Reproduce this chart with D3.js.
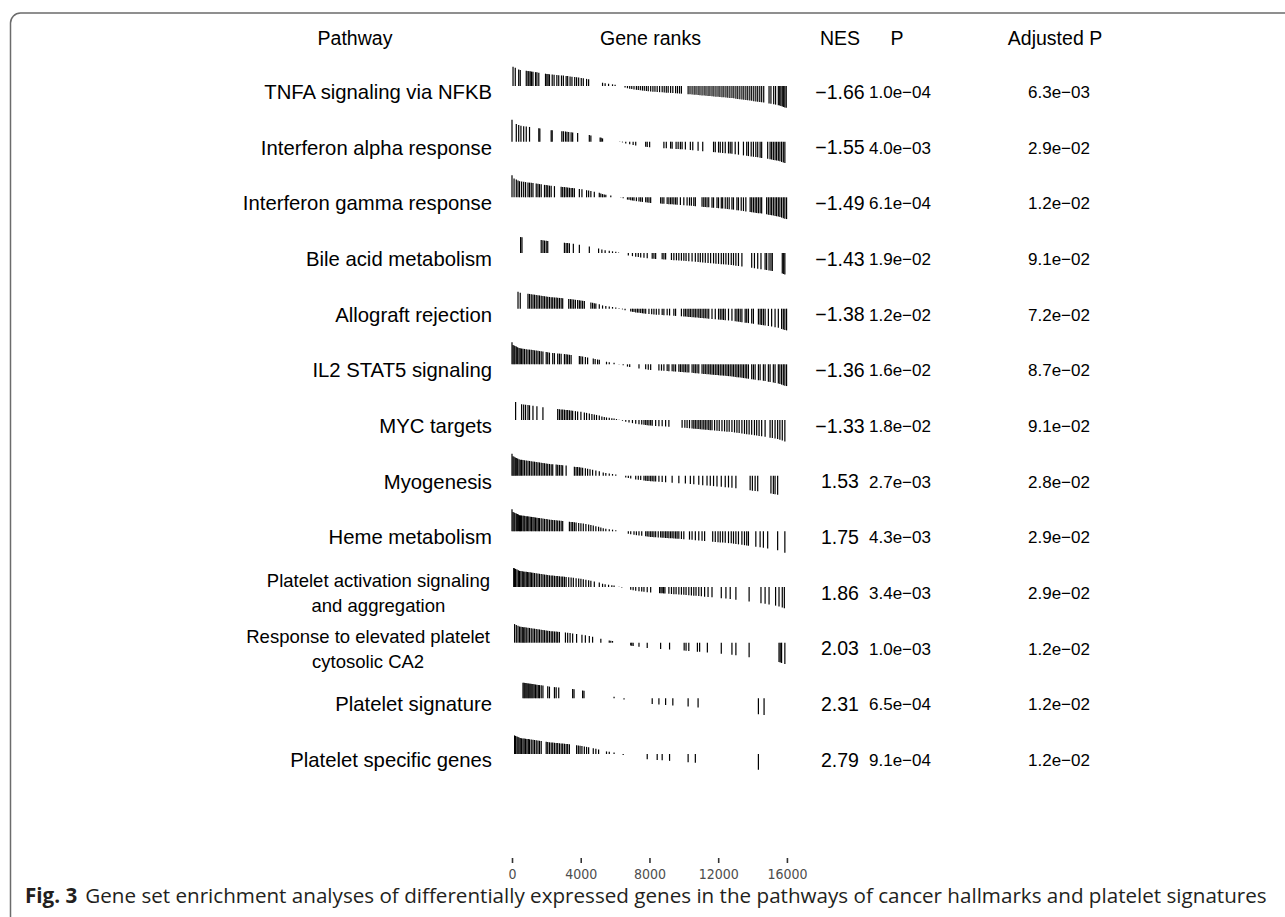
<!DOCTYPE html>
<html>
<head>
<meta charset="utf-8">
<script src="https://cdn.jsdelivr.net/npm/d3@7"></script>
<style>
  body { margin: 0; background: #fff; }
  svg { display: block; }
</style>
</head>
<body>
<div id="chart"></div>
<script>
// ---- data ----
const pathways = [
  "TNFA signaling via NFKB",
  "Interferon alpha response",
  "Interferon gamma response",
  "Bile acid metabolism",
  "Allograft rejection",
  "IL2 STAT5 signaling",
  "MYC targets",
  "Myogenesis",
  "Heme metabolism",
  "Platelet activation signaling\nand aggregation",
  "Response to elevated platelet\ncytosolic CA2",
  "Platelet signature",
  "Platelet specific genes"
];
const nesValues = [-1.66, -1.55, -1.49, -1.43, -1.38, -1.36, -1.33, 1.53, 1.75, 1.86, 2.03, 2.31, 2.79];
const pValues = [1.0e-4, 4.0e-3, 6.1e-4, 1.9e-2, 1.2e-2, 1.6e-2, 1.8e-2, 2.7e-3, 4.3e-3, 3.4e-3, 1.0e-3, 6.5e-4, 9.1e-4];
const padjValues = [6.3e-3, 2.9e-2, 1.2e-2, 9.1e-2, 7.2e-2, 8.7e-2, 9.1e-2, 2.8e-2, 2.9e-2, 2.9e-2, 1.2e-2, 1.2e-2, 1.2e-2];

// ranked statistic (scaled to max |stat| = 1)
const statRanks  = [0, 60, 450, 1200, 2200, 3150, 4100, 4500, 5100, 5300, 6000, 6300, 6700, 7200, 8000, 10100, 12800, 13800, 14730, 15500, 15900, 16120];
const statValues = [1.0, 0.88, 0.73, 0.65, 0.53, 0.46, 0.36, 0.30, 0.20, 0.14, 0.06, 0.0, -0.10, -0.17, -0.25, -0.36, -0.55, -0.66, -0.76, -0.87, -0.98, -1.0];
const nGenes = 16120;
const rankTicks = [0, 4000, 8000, 12000, 16000];

// gene positions of every pathway in the ranked list
const geneRanks = [
  [60,190,390,480,830,930,980,1060,1140,1220,1370,1450,1560,1950,2030,2100,2180,2340,2450,2610,2720,2880,2990,3150,3240,3380,3490,3650,3760,3880,4030,4150,4340,4460,5270,5420,5620,5850,6000,6580,6720,6850,6970,7100,7240,7350,7470,7590,7700,7820,7930,8070,8200,8320,8450,8590,8740,8860,8980,9090,9230,9360,9520,9630,9750,9860,10250,10360,10480,10600,10710,10830,10940,11060,11180,11290,11410,11520,11640,11750,11870,11990,12100,12220,12330,12450,12560,12680,12800,12910,13030,13140,13260,13380,13490,13610,13720,13840,13950,14070,14190,14300,14420,14530,14650,14960,15070,15230,15340,15500,15580,15650,15730,15810,15880,15960],
  [0,250,390,520,680,830,1020,1560,1620,2280,2340,2900,2990,3110,3200,3300,3440,3530,3820,4500,4590,5130,5190,5270,6270,6430,6620,6850,7050,7200,7780,7870,8010,8840,8980,9230,9320,9550,9670,9800,9900,10090,10380,10520,10830,11100,11730,11830,12020,12120,12260,12410,12600,12700,12800,12990,13180,13470,13660,13760,13920,14050,14190,14300,14440,14530,14880,15020,15110,15210,15310,15400,15500,15590,15690,15790,15880],
  [0,120,250,350,440,560,680,790,930,1020,1120,1220,1410,1510,1600,1700,1890,1990,2080,2180,2280,2470,2860,2950,3050,3150,3240,3340,3440,3530,3630,3920,4070,4340,4460,4590,4790,5080,5170,5270,5370,5460,5750,6330,6470,6720,6810,6910,7010,7100,7240,7390,7490,7590,7780,7870,7970,8070,8650,8740,8840,9030,9130,9230,9320,9420,9520,9610,9800,10000,10190,10330,10440,10580,10670,11060,11160,11250,11350,11450,11640,11730,11930,12020,12180,12260,12410,12530,12640,12800,12890,13090,13180,13340,13470,13610,13860,13950,14050,14150,14240,14340,14440,14530,14820,14920,15020,15110,15210,15310,15400,15500,15590,15690,15790,15880,15980],
  [500,580,1700,1800,1890,1990,2080,3050,3150,3240,3340,3570,3920,4500,5040,5230,5420,5660,5850,6040,6200,6770,7010,7200,7350,7490,7680,7870,8160,8260,8360,8740,8840,8940,9280,9420,9570,9710,9860,10000,10130,10290,10480,10670,10830,10960,11100,11250,11410,11560,11730,11870,12020,12180,12310,12450,12600,12760,12890,13030,13180,13380,13950,14110,14300,14490,14730,14820,14960,15070,15150,15730,15810,15880],
  [350,480,930,1020,1120,1220,1310,1410,1510,1600,1700,1800,1890,1990,2080,2180,2280,2370,2470,2570,2660,2760,2860,2950,3300,3400,3490,3590,3690,3820,3920,4010,4110,4210,4590,4690,4790,4880,5080,5270,5460,5660,5850,6040,6230,6430,6580,6910,7010,7100,7200,7300,7390,7490,7590,7680,7780,7970,8130,8260,8400,8550,8740,8840,9030,9170,9420,9520,9860,10000,10090,10190,10290,10380,10480,10580,10670,10770,10870,10960,11060,11160,11250,11350,11450,11640,11830,12020,12120,12220,12310,12410,12600,12800,12990,13090,13180,13280,13380,13570,13660,13760,13950,14050,14340,14440,14530,14630,14730,14920,15110,15310,15500,15690,15790,15880,15980],
  [0,60,120,170,250,330,410,480,560,640,730,830,930,1020,1120,1220,1310,1410,1510,1600,1700,1800,1990,2080,2180,2370,2470,2660,2760,2860,3050,3150,3240,3340,3440,3920,4010,4110,4270,4400,4730,4840,4980,5080,5500,5660,5940,6230,6470,6720,6850,7390,7780,7930,8070,8550,8700,8840,9030,9130,9320,9420,9520,9710,9800,9900,10000,10090,10190,10290,10480,10580,10670,10770,10870,11060,11160,11250,11350,11450,11540,11640,11730,11830,11930,12020,12120,12220,12310,12410,12510,12600,12700,12800,12890,12990,13090,13180,13280,13380,13470,13570,13660,13760,13950,14050,14150,14340,14440,14630,14730,14920,15020,15210,15310,15500,15590,15690,15790,15880,15980],
  [210,560,680,790,930,1020,1220,1450,1800,2660,2760,2860,2950,3050,3150,3240,3340,3440,3530,3690,3820,4010,4210,4340,4500,4650,4790,4920,5080,5230,5370,5500,5660,5810,5940,6080,6230,6430,6620,6810,7010,7200,7390,7550,7680,7780,7870,7970,8070,8160,8360,8550,8740,8940,9130,9900,10060,10190,10330,10480,10580,10670,10770,10870,10960,11060,11160,11250,11350,11450,11540,11640,11790,11930,12060,12220,12370,12510,12640,12800,12950,13090,13220,13380,13530,13660,13800,13950,14110,14240,14380,14530,14730,15020,15150,15310,15460,15590,15730,15880],
  [0,60,120,190,250,330,410,480,560,640,730,830,930,1020,1120,1220,1310,1410,1510,1600,1700,1800,1890,1990,2080,2180,2280,2370,2570,2660,2760,2860,2950,3150,3630,3730,3820,3920,4010,4110,4270,4400,4540,4690,4880,5080,5310,5460,5660,5850,6040,6620,6770,6910,7200,7350,7490,7680,7780,7870,7970,8070,8160,8260,8360,8550,8740,8940,9320,9710,10090,10380,10580,10870,11100,11350,11540,11730,11930,12180,12410,12600,12800,13030,13860,13990,14150,14300,15070,15210,15310,15460],
  [0,60,120,170,250,310,370,440,500,560,640,700,750,830,910,980,1060,1140,1220,1290,1370,1450,1530,1600,1700,1800,1890,1990,2080,2180,2280,2370,2470,2570,2660,2760,2860,2950,3340,3440,3530,3630,3730,3880,4010,4150,4300,4460,4590,4730,4880,5040,5170,5310,5460,5660,5850,6040,6270,6770,6910,7100,7240,7390,7550,7780,7870,7970,8070,8160,8260,8360,8510,8650,8740,8840,8940,9030,9130,9230,9320,9420,9520,9610,9710,9860,10000,10330,10480,10670,10870,11060,11210,11680,11830,11990,12120,12260,12410,12600,12760,12890,13030,13180,13380,13530,13660,13760,14190,14440,14630,14880,15460,15880],
  [100,150,210,290,370,440,520,600,680,750,830,910,980,1060,1140,1220,1310,1410,1510,1600,1700,1800,1890,1990,2080,2180,2280,2370,2470,2570,2660,2760,2860,2950,3050,3150,3300,3440,3570,3730,3880,4010,4150,4300,4460,4590,4790,5080,5270,5420,5620,5810,5940,6230,6390,6910,7050,7200,7390,7550,7680,7870,8070,8590,8670,8740,8820,8900,9130,9280,9420,9550,9710,9860,10000,10130,10290,10440,10580,10710,10870,11020,11210,11410,11640,12180,12450,12700,13030,13800,14490,14730,14960,15340,15540,15730,15850],
  [150,250,350,440,520,600,680,750,830,930,1020,1120,1220,1310,1410,1510,1600,1700,1800,1890,1990,2080,2180,2280,2370,2470,2570,2660,2760,3110,3240,3380,3530,3760,4070,4270,4500,4690,5170,5660,5750,5850,6910,6970,7050,7390,7870,8650,9170,10020,10130,10290,10790,10920,11370,12180,12800,13030,13800,15540,15610,15690,15880],
  [640,700,750,810,870,930,980,1040,1100,1160,1220,1290,1370,1450,1530,1600,1700,1800,2080,2180,2470,2570,2720,3530,3610,4110,4190,5940,6520,8160,8550,8940,9360,10250,10830,14340,14670],
  [150,210,290,350,410,480,560,640,710,790,870,950,1020,1120,1220,1310,1410,1510,1600,1700,1990,2080,2180,2280,2370,2470,2570,2660,2760,2860,2950,3050,3150,3240,3340,3760,3860,3960,4070,4210,4340,4460,4730,4880,5040,5500,5660,5940,6470,7870,8450,8740,9170,10250,10670,14340]
];

// ---- layout ----
const width = 1285;
const height = 917;
const fontMain = "'Liberation Sans', Arial, Helvetica, sans-serif";
const labelRight = 492;
const colNES = 840, colP = 900, colPadj = 1059;

const svg = d3.select("#chart")
  .append("svg")
  .attr("width", width)
  .attr("height", height);

// figure frame (top + left, rounded corner)
svg.append("path")
  .attr("d", "M10.5,917V23A10,10 0 0 1 20.5,13H1285")
  .attr("fill", "none")
  .attr("stroke", "#6b6b6b")
  .attr("stroke-width", 1.5);

// scales
const xScale = d3.scaleLinear()
  .domain([0, nGenes + 1])
  .range([512, 789]);

// tick baseline of each row
const rowScale = d3.scalePoint()
  .domain(pathways)
  .range([86, 754]);

const statAt = d3.scaleLinear()
  .domain(statRanks)
  .range(statValues)
  .clamp(true);

const tickScale = d3.scaleLinear()
  .domain([-1, 1])
  .range([22, -22]);

const fmtNES = d3.format(".2f");
function fmtP(v) {
  // R style: 1.0e-04
  const e = Math.floor(Math.log10(v) + 1e-9);
  const m = v / Math.pow(10, e);
  const ex = (e < 0 ? "\u2212" : "+") + String(Math.abs(e)).padStart(2, "0");
  return m.toFixed(1) + "e" + ex;
}

// header
const headerY = 38;
const header = [
  {t: "Pathway", x: 355},
  {t: "Gene ranks", x: (xScale.range()[0] + xScale.range()[1]) / 2},
  {t: "NES", x: colNES},
  {t: "P", x: colP - 3},
  {t: "Adjusted P", x: colPadj - 4}
];
svg.append("g").selectAll("text")
  .data(header)
  .join("text")
  .attr("x", d => d.x)
  .attr("y", headerY)
  .attr("dy", "0.35em")
  .attr("text-anchor", "middle")
  .attr("font-family", fontMain)
  .attr("font-size", 19.5)
  .attr("fill", "#000")
  .text(d => d.t);

// rows
const textOff = 6;
const rows = svg.append("g").selectAll("g.row")
  .data(pathways)
  .join("g")
  .attr("class", "row")
  .attr("transform", d => `translate(0, ${rowScale(d)})`);

// pathway names (multi-line names are centred within a right-justified block)
rows.each(function(d) {
  const g = d3.select(this);
  const lines = d.split("\n");
  const txt = g.append("text")
    .attr("font-family", fontMain)
    .attr("fill", "#000")
    .attr("y", textOff);
  if (lines.length === 1) {
    txt.attr("font-size", 20.3)
      .attr("x", labelRight).attr("dy", "0.35em").attr("text-anchor", "end").text(d);
  } else {
    txt.attr("font-size", 18.5);
    const spans = txt.selectAll("tspan")
      .data(lines)
      .join("tspan")
      .attr("dy", "0.35em")
      .text(l => l);
    let maxW = 0;
    spans.each(function() { maxW = Math.max(maxW, this.getComputedTextLength()); });
    const cx = labelRight - 2 - maxW / 2;
    spans.attr("x", cx)
      .attr("text-anchor", "middle")
      .attr("y", (l, i) => textOff + (i - (lines.length - 1) / 2) * 25)
      .attr("dy", "0.35em");
  }
});

// barcode ticks
rows.each(function(d, i) {
  d3.select(this).append("g")
    .selectAll("line")
    .data(geneRanks[i])
    .join("line")
    .attr("x1", r => xScale(r))
    .attr("x2", r => xScale(r))
    .attr("y1", tickScale(0))
    .attr("y2", r => tickScale(statAt(r)))
    .attr("stroke", "#000")
    .attr("stroke-width", 1.2);
});

// value columns
const cols = [
  {x: colNES, size: 19.5, f: i => fmtNES(nesValues[i])},
  {x: colP, size: 17, f: i => fmtP(pValues[i])},
  {x: colPadj, size: 17, f: i => fmtP(padjValues[i])}
];
cols.forEach(c => {
  rows.append("text")
    .attr("x", c.x)
    .attr("y", textOff)
    .attr("dy", "0.35em")
    .attr("text-anchor", "middle")
    .attr("font-family", fontMain)
    .attr("font-size", c.size)
    .attr("fill", "#000")
    .text((d, i) => c.f(i));
});

// rank axis
const xAxis = d3.axisBottom(xScale)
  .tickValues(rankTicks)
  .tickFormat(d3.format("d"))
  .tickSize(5)
  .tickPadding(6);

const axisG = svg.append("g")
  .attr("transform", `translate(0, 858)`)
  .call(xAxis);
axisG.select(".domain").remove();
axisG.selectAll(".tick line")
  .attr("stroke", "#333")
  .attr("stroke-width", 1.6);
axisG.selectAll(".tick text")
  .attr("font-family", "'Liberation Sans Narrow', 'DejaVu Sans Condensed', 'Liberation Sans', sans-serif")
  .attr("font-size", 14)
  .attr("fill", "#4d4d4d");

// caption
const capX = 25, capRight = 1270;
const cap = svg.append("text")
  .attr("x", capX)
  .attr("y", 903)
  .attr("font-family", "'Open Sans', 'Noto Sans', sans-serif")
  .attr("font-size", 16)
  .attr("fill", "#231f20");
cap.append("tspan").attr("font-weight", "bold").text("Fig. 3");
cap.append("tspan").attr("dx", 8).text("Gene set enrichment analyses of differentially expressed genes in the pathways of cancer hallmarks and platelet signatures");
const capW = cap.node().getComputedTextLength() + 8;
cap.attr("font-size", 16 * (capRight - capX) / capW);
</script>
</body>
</html>
